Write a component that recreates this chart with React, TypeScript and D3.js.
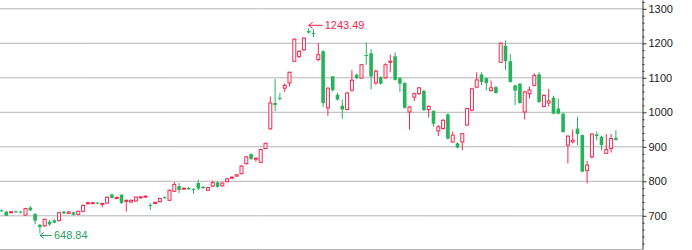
import React, { useEffect, useRef } from 'react';
import * as d3 from 'd3';

// ---- data ----
const opens = [
  716, 712, 710, 713, 712, 702, 724, 705, 674, 671,
  683, 687, 686, 712, 707, 710, 704, 713, 735, 736,
  738, 733, 737, 762, 751, 761, 742, 740, 743, 752,
  755, 731, 736, 741, 754, 745, 771, 786, 778, 781,
  778, 795, 784, 774, 786, 797, 787, 799, 810, 815,
  822, 851, 879, 865, 855, 895, 952, 1027, 1042, 1070,
  1085, 1148, 1162, 1181, 1236, 1230, 1153, 1177, 1013, 1104,
  1051, 1019, 1008, 1064, 1109, 1099, 1166, 1171, 1085, 1102,
  1100, 1146, 1162, 1099, 1085, 1001, 1044, 1054, 1062, 1008,
  1004, 946, 953, 994, 914, 910, 914, 963, 1006, 1073,
  1110, 1099, 1063, 1073, 1145, 1193, 1148, 1078, 1083, 1001,
  1054, 1078, 1110, 1017, 1027, 1042, 1011, 996, 905, 914,
  953, 934, 831, 871, 936, 929, 881, 895, 926,
];
const closes = [
  713, 700, 712, 710, 709, 721, 716, 686, 667, 690,
  675, 680, 709, 707, 711, 703, 713, 730, 738, 738,
  736, 736, 754, 752, 753, 737, 745, 745, 754, 755,
  757, 729, 739, 750, 751, 774, 791, 775, 780, 777,
  776, 779, 780, 782, 796, 784, 795, 807, 812, 819,
  844, 871, 865, 867, 892, 910, 1027, 1021, 1040, 1078,
  1116, 1212, 1177, 1215, 1231, 1228, 1167, 1027, 1070, 1064,
  1037, 1008, 1056, 1093, 1099, 1138, 1163, 1104, 1119, 1083,
  1138, 1148, 1094, 1083, 1013, 1015, 1054, 1071, 1006, 1017,
  967, 958, 977, 924, 934, 898, 938, 1011, 1068, 1094,
  1088, 1085, 1071, 1056, 1200, 1148, 1088, 1063, 1027, 1059,
  1065, 1107, 1030, 1049, 1033, 996, 996, 943, 931, 919,
  937, 828, 847, 937, 931, 905, 892, 924, 920,
];
const highs = [
  718, 714, 714, 715, 714, 723, 728, 708, 676, 692,
  688, 690, 712, 714, 714, 712, 715, 733, 741, 740,
  740, 737, 756, 764, 756, 763, 747, 747, 756, 757,
  759, 737, 741, 752, 756, 776, 798, 795, 782, 783,
  780, 805, 786, 784, 802, 800, 797, 810, 814, 821,
  847, 873, 881, 869, 895, 912, 1046, 1097, 1056, 1083,
  1118, 1214, 1180, 1217, 1243.49, 1241, 1201, 1180, 1072, 1106,
  1056, 1037, 1058, 1122, 1112, 1140, 1203, 1183, 1124, 1105,
  1142, 1167, 1174, 1102, 1087, 1019, 1057, 1073, 1065, 1020,
  1006, 963, 980, 997, 944, 913, 940, 1013, 1071, 1116,
  1116, 1101, 1092, 1076, 1203, 1208, 1169, 1080, 1085, 1062,
  1075, 1113, 1116, 1052, 1068, 1048, 1040, 999, 933, 950,
  987, 936, 859, 939, 945, 932, 937, 937, 948,
];
const lows = [
  711, 699, 707, 708, 707, 700, 714, 676, 648.84, 668,
  671, 678, 684, 705, 705, 701, 702, 711, 733, 734,
  734, 725, 735, 750, 748, 735, 712, 738, 741, 750,
  752, 717, 733, 739, 749, 743, 769, 766, 776, 775,
  764, 775, 778, 772, 784, 782, 785, 797, 808, 813,
  820, 849, 862, 857, 853, 893, 950, 1003, 1034, 1059,
  1075, 1146, 1157, 1178, 1228, 1218, 1148, 1015, 990, 1060,
  1034, 981, 1006, 1060, 1096, 1097, 1138, 1066, 1080, 1080,
  1097, 1116, 1092, 1059, 1011, 950, 1033, 1050, 1004, 985,
  958, 931, 950, 921, 912, 895, 890, 961, 1003, 1070,
  1078, 1063, 1060, 1054, 1143, 1123, 1086, 1020, 1025, 979,
  1040, 1075, 1027, 1014, 1017, 994, 994, 941, 852, 910,
  905, 826, 794, 866, 919, 890, 879, 883, 918,
];
const days = opens.map((_, i) => `D${i + 1}`);
const majorTicks = [700, 800, 900, 1000, 1100, 1200, 1300];
const minorTicks = [620, 640, 660, 680, 720, 740, 760, 780, 820, 840, 860, 880,
  920, 940, 960, 980, 1020, 1040, 1060, 1080, 1120, 1140, 1160, 1180,
  1220, 1240, 1260, 1280, 1320];

// ---- layout / style ----
const W = 692;
const H = 250;
const AXIS_X = 642.5;
const RED = '#f2274f';
const GREEN = '#27b35c';
const LABEL_GREEN = '#2d9f66';
const FONT = '"Liberation Sans", Arial, Helvetica, sans-serif';

export default function App() {
  const axisRef = useRef<SVGGElement>(null);

  const x = d3.scaleBand<string>().domain(days).range([-0.9, 618.3]).padding(0);
  const y = d3.scaleLinear().domain([603.8, 1325.5]).range([249, 0]);
  const cx = (i: number) => (x(days[i]) as number) + x.bandwidth() / 2;

  useEffect(() => {
    const g = d3.select(axisRef.current);
    g.selectAll('*').remove();
    const minor = g.append('g').call(
      d3.axisRight(y).tickValues(minorTicks).tickSize(2).tickSizeOuter(0).tickFormat(() => '')
    );
    minor.select('.domain').remove();
    minor.selectAll('line').attr('stroke', '#333');
    const major = g.append('g').call(
      d3.axisRight(y).tickValues(majorTicks).tickSize(4).tickSizeOuter(0).tickPadding(2)
        .tickFormat(d3.format('d'))
    );
    major.select('.domain').attr('stroke', '#333');
    major.selectAll('line').attr('stroke', '#333');
    major
      .selectAll('text')
      .attr('fill', '#222')
      .style('font-family', FONT)
      .style('font-size', '11px');
  }, []);

  let maxI = 0;
  let minI = 0;
  highs.forEach((h, i) => { if (h > highs[maxI]) maxI = i; });
  lows.forEach((l, i) => { if (l < lows[minI]) minI = i; });

  const maxX = cx(maxI);
  const maxY = y(highs[maxI]) - 3;
  const minX = cx(minI);
  const minY = y(lows[minI]) + 2;

  return (
    <svg
      width={W}
      height={H}
      style={{ position: 'absolute', left: 0, top: 0, background: '#fff' }}
    >
      <g>
        {majorTicks.map((t) => (
          <line key={t} x1={0} x2={AXIS_X} y1={y(t)} y2={y(t)} stroke="#b4b4b4" strokeWidth={1} />
        ))}
        <line x1={0} x2={AXIS_X} y1={249.5} y2={249.5} stroke="#b4b4b4" strokeWidth={1} />
      </g>
      <g>
        {days.map((d, i) => {
          const o = opens[i];
          const c = closes[i];
          const up = c >= o;
          const col = up ? RED : GREEN;
          const top = y(Math.max(o, c));
          const bot = y(Math.min(o, c));
          const h = Math.max(bot - top, 1);
          const xc = cx(i);
          return (
            <g key={d}>
              <line x1={xc} x2={xc} y1={y(highs[i])} y2={y(lows[i])} stroke={col} strokeWidth={1} />
              {up ? (
                <rect x={xc - 1.5} y={top} width={3} height={h} fill="#fff" stroke={RED} strokeWidth={1} />
              ) : (
                <rect x={xc - 1.8} y={top} width={3.6} height={h} fill={GREEN} />
              )}
            </g>
          );
        })}
      </g>
      <g fontFamily={FONT} fontSize={11}>
        <g stroke={RED} strokeWidth={1} fill="none">
          <path d={`M${maxX},${maxY}H${maxX + 14}`} />
          <path d={`M${maxX + 4},${maxY - 3}L${maxX},${maxY}L${maxX + 4},${maxY + 3}`} />
        </g>
        <text x={maxX + 16} y={maxY} dy="0.35em" fill={RED}>{highs[maxI].toFixed(2)}</text>
        <g stroke={LABEL_GREEN} strokeWidth={1} fill="none">
          <path d={`M${minX},${minY}H${minX + 12}`} />
          <path d={`M${minX + 4},${minY - 3}L${minX},${minY}L${minX + 4},${minY + 3}`} />
        </g>
        <text x={minX + 14} y={minY} dy="0.35em" fill={LABEL_GREEN}>{lows[minI].toFixed(2)}</text>
      </g>
      <g ref={axisRef} transform={`translate(${AXIS_X},0)`} />
    </svg>
  );
}
